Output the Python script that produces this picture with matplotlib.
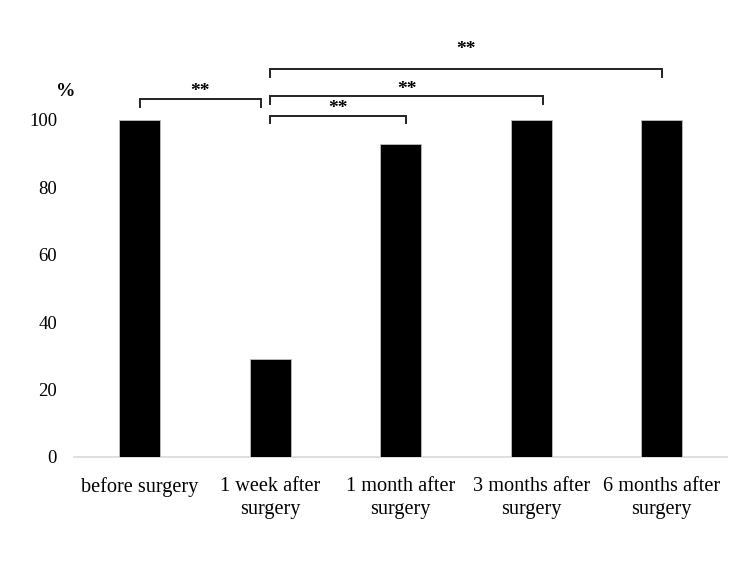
import matplotlib
matplotlib.use("Agg")
import matplotlib.pyplot as plt
import numpy as np

# data
CATEGORIES = [
    "before surgery",
    "1 week after\nsurgery",
    "1 month after\nsurgery",
    "3 months after\nsurgery",
    "6 months after\nsurgery",
]
VALUES = [100, 29, 93, 100, 100]
Y_TICKS = [0, 20, 40, 60, 80, 100]

# significance brackets: (start category, end category, line level, star level, label)
BRACKET_START = [0.0, 1.0, 1.0, 1.0]
BRACKET_END = [0.93, 2.04, 3.09, 4.0]
BRACKET_LEVEL = [106.2, 101.3, 107.1, 115.2]
STAR_LEVEL = [108.6, 103.4, 109.2, 120.8]
BRACKET_LABEL = ["**", "**", "**", "**"]

plt.rcParams["font.family"] = ["Liberation Serif", "DejaVu Serif"]

fig = plt.figure(figsize=(7.5, 5.63), dpi=100)
ax = fig.add_axes([0.0993, 0.1888, 0.870, 0.7476])

x = np.arange(len(CATEGORIES))
ax.bar(x, VALUES, width=0.314, color="black", edgecolor="#bfbfbf", linewidth=0.6, zorder=3)

ax.set_xlim(-0.5, len(CATEGORIES) - 0.5)
ax.set_ylim(0, 125)
ax.set_yticks(Y_TICKS)
ax.set_xticks(x)
ax.set_xticklabels(CATEGORIES, fontsize=14.6, linespacing=1.3)
ax.tick_params(axis="y", length=0, pad=12.5, labelsize=13.5)
ax.tick_params(axis="x", length=0, pad=14.5)

for side in ["top", "right", "left"]:
    ax.spines[side].set_visible(False)
ax.spines["bottom"].set_color("#d9d9d9")
ax.spines["bottom"].set_linewidth(1.2)

# y unit label
ax.text(-0.57, 108.5, "%", ha="center", va="center", fontsize=14, fontweight="bold",
        clip_on=False)

drop = 2.3
for x0, x1, lvl, slvl, lab in zip(BRACKET_START, BRACKET_END, BRACKET_LEVEL,
                                  STAR_LEVEL, BRACKET_LABEL):
    ax.plot([x0, x0, x1, x1], [lvl - drop, lvl, lvl, lvl - drop], color="#222222",
            linewidth=1.4, clip_on=False, solid_joinstyle="miter")
    ax.text((x0 + x1) / 2, slvl, lab, ha="center", va="center", fontsize=14,
            fontweight="bold", clip_on=False)

fig.savefig("out.png", dpi=100, facecolor="white")
